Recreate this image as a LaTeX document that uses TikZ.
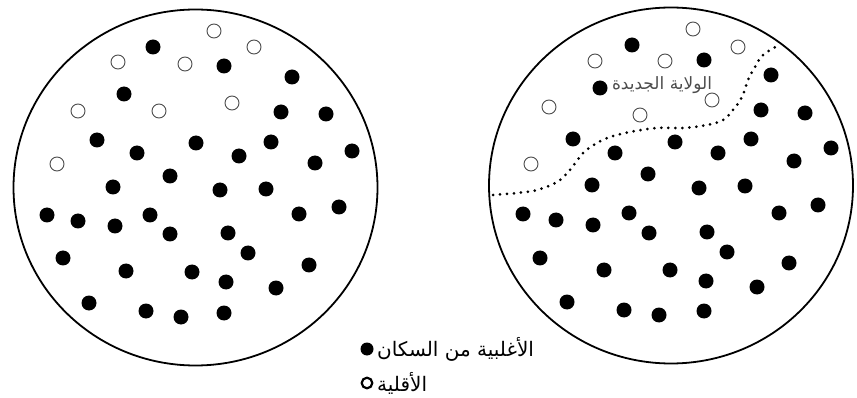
\documentclass[tikz,border=0pt]{standalone}
\usepackage{fontspec}
\TeXXeTstate=1
\newfontfamily\arabicfont[Script=Arabic]{DejaVu Sans}
\tikzset{
  rim/.style={draw=black, line width=1.8pt},
  majority/.style={fill=black},
  minority/.style={draw=black!70, line width=0.9pt},
  border/.style={line width=3pt, dash pattern=on 0pt off 7pt, line cap=round},
  legendtext/.style={font=\arabicfont\fontsize{20}{23}\selectfont, anchor=west, inner sep=0pt},
  regionlabel/.style={font=\arabicfont\fontsize{17}{20}\selectfont, text=black!70, inner sep=0pt}
}
\begin{document}
\begin{tikzpicture}[x=1pt,y=-1pt]
\useasboundingbox (0,0) rectangle (857,398);
% circles
\draw[rim] (195.5,187.5) ellipse [x radius=182, y radius=178];
\draw[rim] (671,185.5) ellipse [x radius=182, y radius=178];
% left circle: majority
\foreach \p in {(153,47),(224,66),(292,77),(124,94),(281,112),(326,114),(97,140),(196,143),(271,142),(137,153),(239,156),(352,151),(315,163),(170,176),(113,187),(220,190),(266,189),
(47,215),(78,221),(115,226),(150,215),(170,234),(228,233),(299,214),(339,207),(63,258),(248,253),(126,271),(192,272),(226,282),(309,265),(276,288),(89,303),(146,311),(181,317),(224,313)}
  \fill[majority] \p circle[radius=7.5pt];
% left circle: minority
\foreach \p in {(214,31),(254,47),(118,62),(185,64),(78,111),(159,111),(232,103),(57,164)}
  \draw[minority] \p circle[radius=7pt];
% right circle: majority
\foreach \p in {(632,45),(704,60),(771,75),(600,88),(761,110),(805,113),(573,139),(675,142),(751,139),(615,153),(718,153),(831,148),(794,161),(648,174),(592,185),(699,188),(745,186),
(523,214),(556,220),(593,225),(629,213),(649,233),(707,232),(779,213),(818,205),(540,258),(727,252),(604,270),(670,270),(706,281),(789,263),(757,287),(567,302),(624,310),(659,315),(704,311)}
  \fill[majority] \p circle[radius=7.5pt];
% right circle: minority
\foreach \p in {(693,29),(738,47),(595,61),(665,61),(549,107),(640,115),(712,100),(531,164)}
  \draw[minority] \p circle[radius=7pt];
% new state border
\draw[border] plot[smooth, tension=0.6] coordinates {(493,195) (517,193) (537,190) (557,182) (570,170) (583,153) (597,143) (610,137) (630,132) (657,128) (683,128) (707,125) (723,120) (733,110) (742,97) (748,80) (755,67) (763,55) (779,45)};
\node[regionlabel] (newstate) at (662,85) {\beginR الولاية الجديدة\endR};
% legend
\fill[majority] (367,349) circle[radius=6.5pt];
\node[legendtext] (majlabel) at (377,349) {\beginR الأغلبية من السكان\endR};
\draw[black, line width=2.2pt] (367,383) circle[radius=5.3pt];
\node[legendtext] (minlabel) at (377,383) {\beginR الأقلية\endR};
\end{tikzpicture}
\end{document}
